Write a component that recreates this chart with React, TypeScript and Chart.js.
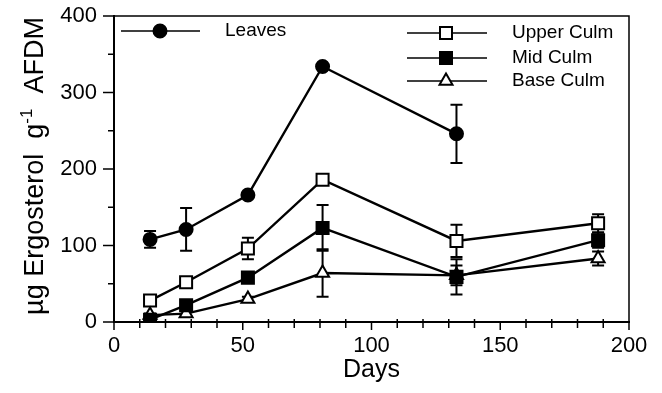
import React, { useEffect, useRef } from 'react';
import { Chart, registerables } from 'chart.js';
Chart.register(...registerables);

const FONT = '"Liberation Sans", Arial, Helvetica, sans-serif';

// Sampling days
const days = [14, 28, 52, 81, 133, 188];
const leavesDays = [14, 28, 52, 81, 133];

// Means (µg ergosterol g-1 AFDM) and error values
const leavesMean = [108, 121, 166, 334, 246];
const leavesErr = [11, 28, 3, 3, 38];
const upperMean = [28, 52, 96, 186, 106, 129];
const upperErr = [3, 4, 14, 4, 21, 12];
const midMean = [3, 22, 58, 123, 59, 107];
const midErr = [2, 3, 5, 30, 23, 10];
const baseMean = [9, 11, 30, 64, 61, 83];
const baseErr = [2, 3, 3, 31, 13, 9];

const seriesNames = ['Leaves', 'Upper Culm', 'Mid Culm', 'Base Culm'];
const xTickValues = [0, 50, 100, 150, 200];
const yTickValues = [0, 100, 200, 300, 400];
const xTitle = 'Days';

const errorsByDataset = [leavesErr, upperErr, midErr, baseErr];

const errorBarPlugin = {
  id: 'errorBars',
  beforeDatasetsDraw(chart: any) {
    const ctx = chart.ctx;
    const xs = chart.scales.x;
    const ys = chart.scales.y;
    ctx.save();
    ctx.strokeStyle = '#000';
    ctx.lineWidth = 2;
    chart.data.datasets.forEach((ds: any, di: number) => {
      const errs = errorsByDataset[di];
      ds.data.forEach((p: any, i: number) => {
        const e = errs[i];
        if (!e) return;
        const px = xs.getPixelForValue(p.x);
        const pTop = ys.getPixelForValue(p.y + e);
        const pBot = ys.getPixelForValue(p.y - e);
        ctx.beginPath();
        ctx.moveTo(px, pTop);
        ctx.lineTo(px, pBot);
        ctx.moveTo(px - 6, pTop);
        ctx.lineTo(px + 6, pTop);
        ctx.moveTo(px - 6, pBot);
        ctx.lineTo(px + 6, pBot);
        ctx.stroke();
      });
    });
    ctx.restore();
  },
};

const frameTicksPlugin = {
  id: 'frameTicks',
  afterDraw(chart: any) {
    const ctx = chart.ctx;
    const xs = chart.scales.x;
    const ys = chart.scales.y;
    const { left, right, top, bottom } = chart.chartArea;
    ctx.save();
    ctx.strokeStyle = '#000';
    ctx.lineWidth = 1.5;
    for (let v = xs.min; v <= xs.max; v += 10) {
      const px = xs.getPixelForValue(v);
      const major = v % 50 === 0;
      ctx.beginPath();
      ctx.moveTo(px, bottom - (major ? 0 : 3));
      ctx.lineTo(px, bottom + (major ? 8 : 6));
      ctx.stroke();
    }
    for (let v = ys.min; v <= ys.max; v += 50) {
      const py = ys.getPixelForValue(v);
      const major = v % 100 === 0;
      ctx.beginPath();
      ctx.moveTo(left - (major ? 11 : 6), py);
      ctx.lineTo(left, py);
      ctx.stroke();
    }
    // frame top / right
    ctx.beginPath();
    ctx.moveTo(left, top);
    ctx.lineTo(right, top);
    ctx.lineTo(right, bottom);
    ctx.stroke();
    ctx.restore();
  },
};

const yTitlePlugin = {
  id: 'yTitle',
  afterDraw(chart: any) {
    const ctx = chart.ctx;
    ctx.save();
    ctx.translate(33, 166);
    ctx.rotate(-Math.PI / 2);
    ctx.fillStyle = '#000';
    ctx.textBaseline = 'alphabetic';
    const big = `27px ${FONT}`;
    const small = `17px ${FONT}`;
    const a = 'µg Ergosterol  g';
    const s = '-1';
    const b = '  AFDM';
    ctx.font = big;
    const wa = ctx.measureText(a).width;
    const wb = ctx.measureText(b).width;
    ctx.font = small;
    const ws = ctx.measureText(s).width;
    const total = wa + ws + wb;
    let x = -total / 2;
    const base = 10;
    ctx.font = big;
    ctx.fillText(a, x, base);
    x += wa;
    ctx.font = small;
    ctx.fillText(s, x, base - 11);
    x += ws;
    ctx.font = big;
    ctx.fillText(b, x, base);
    ctx.restore();
  },
};

function drawMarker(ctx: any, style: string, x: number, y: number, filled: boolean) {
  ctx.beginPath();
  if (style === 'circle') {
    ctx.arc(x, y, 6.5, 0, Math.PI * 2);
  } else if (style === 'rect') {
    ctx.rect(x - 6, y - 6, 12, 12);
  } else {
    ctx.moveTo(x, y - 7.5);
    ctx.lineTo(x + 6.5, y + 3.75);
    ctx.lineTo(x - 6.5, y + 3.75);
    ctx.closePath();
  }
  ctx.fillStyle = filled ? '#000' : '#fff';
  ctx.fill();
  ctx.lineWidth = 2;
  ctx.strokeStyle = '#000';
  ctx.stroke();
}

const legendPlugin = {
  id: 'customLegend',
  afterDraw(chart: any) {
    const ctx = chart.ctx;
    ctx.save();
    ctx.font = `19px ${FONT}`;
    ctx.textBaseline = 'middle';
    const entries = [
      { name: seriesNames[0], x1: 121, x2: 200, mx: 160, y: 31, tx: 225, style: 'circle', filled: true },
      { name: seriesNames[1], x1: 407, x2: 487, mx: 446, y: 33, tx: 512, style: 'rect', filled: false },
      { name: seriesNames[2], x1: 407, x2: 487, mx: 446, y: 58, tx: 512, style: 'rect', filled: true },
      { name: seriesNames[3], x1: 407, x2: 487, mx: 446, y: 81, tx: 512, style: 'triangle', filled: false },
    ];
    entries.forEach((e) => {
      ctx.strokeStyle = '#000';
      ctx.lineWidth = 1.5;
      ctx.beginPath();
      ctx.moveTo(e.x1, e.y);
      ctx.lineTo(e.x2, e.y);
      ctx.stroke();
      drawMarker(ctx, e.style, e.mx, e.y, e.filled);
      ctx.fillStyle = '#000';
      ctx.fillText(e.name, e.tx, e.y);
    });
    ctx.restore();
  },
};

function toPoints(xs: number[], ys: number[]) {
  return xs.map((x, i) => ({ x, y: ys[i] }));
}

export default function App() {
  const ref = useRef<HTMLCanvasElement | null>(null);
  useEffect(() => {
    document.body.style.margin = '0';
    const common = {
      borderColor: '#000',
      borderWidth: 2.4,
      pointBorderColor: '#000',
      pointBorderWidth: 2,
      tension: 0,
      fill: false,
    };
    const chart = new Chart(ref.current as HTMLCanvasElement, {
      type: 'line',
      data: {
        datasets: [
          { ...common, label: seriesNames[0], data: toPoints(leavesDays, leavesMean), pointStyle: 'circle', pointRadius: 6.5, pointBackgroundColor: '#000', order: 4 },
          { ...common, label: seriesNames[1], data: toPoints(days, upperMean), pointStyle: 'rect', pointRadius: 8.5, pointBackgroundColor: '#fff', order: 3 },
          { ...common, label: seriesNames[2], data: toPoints(days, midMean), pointStyle: 'rect', pointRadius: 8.5, pointBackgroundColor: '#000', order: 1 },
          { ...common, label: seriesNames[3], data: toPoints(days, baseMean), pointStyle: 'triangle', pointRadius: 7.5, pointBackgroundColor: '#fff', order: 2 },
        ],
      },
      options: {
        responsive: false,
        animation: false,
        layout: { padding: { left: 0, top: 16, right: 33, bottom: 0 } },
        plugins: { legend: { display: false }, tooltip: { enabled: false } },
        scales: {
          x: {
            type: 'linear',
            min: 0,
            max: 200,
            afterFit: (s: any) => { s.height = 71; s.paddingLeft = 0; s.paddingRight = 0; },
            afterBuildTicks: (s: any) => { s.ticks = xTickValues.map((v) => ({ value: v })); },
            grid: { display: false },
            border: { display: true, color: '#000', width: 2 },
            ticks: { color: '#000', font: { family: FONT, size: 22 }, padding: 3, maxRotation: 0 },
            title: { display: true, text: xTitle, color: '#000', font: { family: FONT, size: 25 }, padding: { top: 0, bottom: 8 } },
          },
          y: {
            type: 'linear',
            min: 0,
            max: 400,
            afterFit: (s: any) => { s.width = 114; s.paddingTop = 0; s.paddingBottom = 0; },
            afterBuildTicks: (s: any) => { s.ticks = yTickValues.map((v) => ({ value: v })); },
            grid: { display: false },
            border: { display: true, color: '#000', width: 2 },
            ticks: { color: '#000', font: { family: FONT, size: 22 }, padding: 9 },
          },
        },
      },
      plugins: [errorBarPlugin, frameTicksPlugin, yTitlePlugin, legendPlugin],
    } as any);
    return () => chart.destroy();
  }, []);
  return (
    <div style={{ position: 'fixed', left: 0, top: 0, width: 662, height: 393, background: '#fff' }}>
      <canvas ref={ref} width={662} height={393} style={{ display: 'block' }} />
    </div>
  );
}
